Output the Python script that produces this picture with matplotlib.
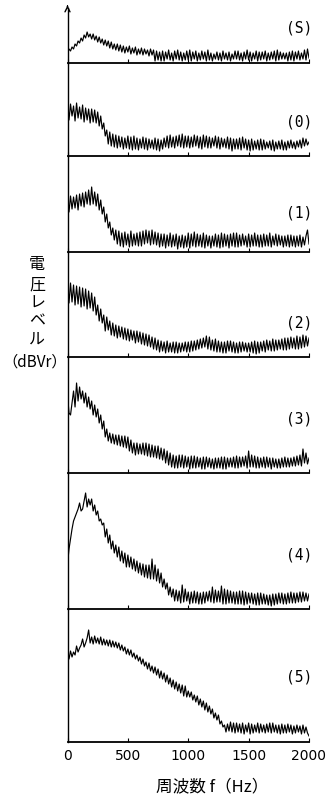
import matplotlib
matplotlib.use("Agg")
import matplotlib.pyplot as plt
import numpy as np

plt.rcParams["font.family"] = ["Noto Sans CJK JP", "DejaVu Sans"]

# frequency grid of the traced spectra (Hz), 12.5 Hz steps
freq = np.arange(0, 2000.1, 12.5)

# voltage level above each panel baseline,
# one row = 200 Hz
level_s = [10, 14, 12, 16, 14, 19, 17, 22, 20, 25, 22, 28, 25, 31, 26, 29,
           24, 29, 23, 27, 21, 26, 20, 24, 18, 23, 17, 22, 15, 21, 14, 19,
           13, 19, 12, 18, 11, 17, 10, 16, 11, 17, 9, 15, 10, 16, 8, 14,
           9, 15, 8, 14, 9, 13, 7, 14, 8, 13, 2, 12, 3, 11, 2, 12,
           2, 11, 4, 13, 3, 10, 2, 12, 4, 13, 3, 11, 2, 10, 3, 12,
           3, 13, 2, 11, 4, 12, 2, 10, 3, 12, 4, 11, 2, 13, 3, 10,
           2, 9, 4, 11, 3, 10, 2, 12, 4, 10, 3, 11, 2, 9, 4, 12,
           4, 12, 3, 10, 2, 11, 4, 13, 3, 11, 2, 10, 4, 12, 2, 11,
           3, 11, 4, 12, 2, 10, 3, 11, 4, 12, 2, 13, 3, 11, 4, 10,
           4, 10, 2, 11, 3, 12, 2, 11, 4, 12, 3, 10, 4, 13, 3, 14,
           5]
level_0 = [56, 36, 52, 40, 50, 35, 53, 38, 49, 37, 51, 34, 48, 36, 47, 33,
           47, 34, 46, 33, 44, 30, 40, 27, 33, 20, 26, 12, 24, 10, 22, 9,
           21, 8, 20, 9, 19, 7, 18, 8, 20, 7, 19, 6, 20, 7, 18, 6,
           17, 8, 19, 7, 18, 6, 17, 8, 16, 7, 18, 6, 17, 5, 16, 7,
           18, 9, 20, 8, 21, 9, 19, 8, 20, 10, 21, 9, 22, 8, 20, 9,
           20, 8, 19, 9, 21, 10, 20, 8, 19, 7, 21, 9, 20, 8, 19, 8,
           18, 10, 20, 8, 19, 7, 18, 9, 17, 8, 19, 7, 18, 5, 17, 7,
           17, 7, 18, 6, 19, 8, 17, 6, 16, 5, 17, 6, 15, 7, 16, 6,
           17, 6, 16, 7, 14, 8, 15, 6, 16, 5, 14, 7, 15, 7, 16, 6,
           14, 6, 15, 8, 16, 8, 14, 7, 15, 9, 16, 8, 18, 10, 17, 11,
           14]
level_1 = [58, 40, 56, 43, 55, 44, 57, 42, 58, 46, 59, 45, 60, 48, 62, 47,
           65, 48, 60, 46, 58, 42, 52, 38, 45, 30, 38, 24, 30, 17, 24, 12,
           22, 8, 21, 6, 19, 5, 20, 7, 18, 5, 21, 6, 18, 7, 19, 6,
           20, 6, 21, 8, 22, 9, 21, 7, 22, 8, 20, 7, 19, 5, 18, 6,
           18, 4, 17, 6, 19, 5, 17, 6, 18, 3, 16, 5, 17, 4, 16, 5,
           19, 4, 18, 6, 20, 5, 18, 6, 17, 5, 19, 4, 17, 6, 16, 4,
           16, 6, 18, 5, 17, 4, 19, 5, 18, 6, 17, 4, 18, 6, 19, 5,
           19, 5, 17, 6, 18, 7, 16, 5, 18, 5, 17, 6, 19, 6, 17, 5,
           17, 5, 18, 6, 17, 6, 19, 5, 16, 7, 18, 6, 17, 7, 16, 5,
           16, 6, 17, 5, 17, 6, 16, 5, 16, 6, 17, 5, 15, 7, 16, 22,
           8]
level_2 = [77, 54, 74, 55, 72, 52, 71, 53, 70, 50, 69, 51, 68, 48, 66, 49,
           64, 46, 60, 42, 52, 36, 48, 34, 42, 26, 40, 27, 36, 22, 34, 21,
           32, 19, 31, 20, 30, 18, 29, 17, 28, 16, 27, 17, 26, 14, 26, 15,
           25, 13, 24, 12, 23, 11, 22, 10, 20, 8, 19, 7, 17, 5, 16, 6,
           15, 4, 16, 5, 14, 5, 15, 4, 15, 4, 14, 5, 14, 6, 15, 5,
           15, 5, 16, 6, 16, 7, 17, 8, 18, 9, 19, 10, 21, 8, 20, 7,
           17, 6, 18, 5, 16, 5, 15, 4, 15, 4, 16, 6, 16, 5, 15, 4,
           14, 4, 15, 5, 15, 6, 14, 5, 14, 5, 15, 4, 16, 3, 15, 4,
           15, 6, 16, 5, 17, 7, 16, 6, 18, 6, 17, 7, 17, 8, 18, 7,
           19, 7, 19, 8, 20, 9, 19, 8, 21, 8, 20, 9, 22, 10, 21, 11,
           19]
level_3 = [78, 60, 58, 70, 82, 66, 90, 72, 86, 74, 82, 70, 80, 66, 76, 64,
           72, 58, 68, 56, 64, 50, 58, 44, 52, 36, 44, 32, 40, 30, 39, 29,
           38, 28, 38, 27, 37, 26, 37, 25, 36, 22, 33, 20, 30, 18, 30, 19,
           29, 19, 30, 18, 30, 17, 29, 16, 28, 16, 27, 15, 27, 14, 25, 13,
           24, 10, 22, 8, 20, 6, 18, 5, 17, 5, 18, 6, 18, 5, 17, 6,
           16, 4, 17, 5, 17, 5, 16, 6, 15, 4, 16, 4, 16, 6, 15, 5,
           14, 4, 15, 5, 15, 5, 16, 4, 16, 4, 15, 6, 15, 6, 16, 5,
           17, 5, 16, 6, 16, 7, 17, 5, 22, 6, 18, 6, 17, 5, 16, 5,
           15, 6, 16, 5, 16, 6, 15, 4, 15, 6, 14, 5, 14, 5, 15, 6,
           16, 6, 15, 6, 15, 7, 16, 7, 17, 8, 18, 7, 24, 10, 20, 9,
           15]
level_4 = [45, 60, 70, 80, 88, 92, 96, 100, 106, 98, 100, 108, 116, 102, 110, 104,
           110, 98, 104, 94, 98, 88, 90, 84, 86, 72, 80, 66, 74, 60, 68, 56,
           64, 52, 62, 48, 58, 46, 56, 42, 54, 42, 52, 40, 50, 38, 48, 36,
           46, 34, 45, 32, 44, 31, 44, 30, 50, 30, 44, 28, 40, 26, 36, 22,
           30, 20, 26, 14, 22, 12, 20, 8, 19, 8, 18, 6, 24, 7, 20, 8,
           17, 5, 17, 6, 18, 6, 17, 5, 16, 5, 17, 6, 17, 8, 18, 7,
           22, 6, 19, 7, 18, 7, 23, 5, 20, 5, 19, 6, 18, 6, 17, 5,
           17, 5, 18, 5, 18, 4, 17, 5, 16, 6, 16, 5, 15, 4, 16, 4,
           16, 5, 15, 5, 14, 4, 14, 3, 15, 4, 15, 5, 16, 6, 16, 5,
           15, 5, 16, 6, 17, 6, 16, 6, 16, 7, 17, 7, 17, 8, 16, 8,
           15]
level_5 = [92, 83, 91, 85, 90, 87, 96, 90, 94, 97, 103, 95, 99, 104, 112, 99,
           105, 98, 106, 99, 104, 98, 105, 97, 103, 97, 102, 96, 102, 95, 101, 95,
           100, 94, 99, 92, 97, 91, 95, 88, 93, 87, 92, 85, 89, 83, 87, 81,
           85, 78, 83, 76, 80, 73, 79, 71, 76, 69, 75, 67, 73, 64, 71, 63,
           69, 60, 67, 58, 64, 55, 62, 53, 60, 51, 58, 49, 57, 46, 56, 45,
           51, 45, 50, 42, 47, 40, 46, 37, 43, 35, 41, 32, 39, 30, 36, 28,
           33, 24, 29, 22, 27, 18, 21, 15, 17, 10, 18, 11, 20, 10, 19, 9,
           19, 10, 18, 9, 19, 8, 17, 10, 19, 8, 18, 9, 17, 10, 19, 9,
           18, 10, 17, 9, 18, 10, 19, 9, 19, 10, 17, 9, 17, 8, 18, 9,
           17, 9, 18, 10, 17, 8, 16, 9, 17, 10, 16, 8, 17, 9, 15, 9,
           6]

panel_names = ["(S)", "(0)", "(1)", "(2)", "(3)", "(4)", "(5)"]
panel_levels = [level_s, level_0, level_1, level_2, level_3, level_4, level_5]
tick_values = [0, 500, 1000, 1500, 2000]

# layout in pixels of the 332x801 picture
W, H = 332, 801
x_left, x_right = 67.5, 309
edges = [8, 63, 156, 252, 357, 473, 609, 742]
name_y = [28, 122, 213, 323, 419, 555, 677]

fig = plt.figure(figsize=(W / 100, H / 100), dpi=100)

for i, (name, vals) in enumerate(zip(panel_names, panel_levels)):
    top, bottom = edges[i], edges[i + 1]
    ax = fig.add_axes([x_left / W, 1 - bottom / H,
                       (x_right - x_left) / W, (bottom - top) / H])
    ax.plot(freq, vals, color="black", lw=0.85)
    ax.set_xlim(0, 2000)
    ax.set_ylim(0, bottom - top)
    ax.patch.set_alpha(0)
    for s in ["top", "right"]:
        ax.spines[s].set_visible(False)
    ax.spines["left"].set_linewidth(1.0)
    ax.spines["bottom"].set_linewidth(1.3)
    ax.set_yticks([])
    ax.set_xticks(tick_values)
    ax.tick_params(axis="x", direction="in", length=3, width=0.8, pad=5)
    if i == len(panel_names) - 1:
        ax.set_xticklabels([str(t) for t in tick_values],
                           fontsize=10, family="DejaVu Sans")
    else:
        ax.set_xticklabels([])
    if i == 0:
        ax.annotate("", xy=(0, 1.1), xytext=(0, 0.98),
                    xycoords="axes fraction",
                    arrowprops=dict(arrowstyle="->", lw=1.0,
                                    mutation_scale=9, color="black"))
    fig.text(299 / W, 1 - name_y[i] / H, name, ha="center", va="center",
             fontsize=10.5, family="DejaVu Sans Mono")

# y-axis label, stacked characters
ylabel_chars = ["電", "圧", "レ", "ベ", "ル"]
ylabel_y = [265, 285, 303, 321, 340]
for ch, yy in zip(ylabel_chars, ylabel_y):
    fig.text(37 / W, 1 - yy / H, ch, ha="center", va="center", fontsize=11.5)
fig.text(35 / W, 1 - 362 / H, "（dBVr）", ha="center", va="center",
         fontsize=11)

fig.text(212 / W, 1 - 787 / H, "周波数 f（Hz）", ha="center", va="center",
         fontsize=12)

fig.savefig("out.png", dpi=100)
